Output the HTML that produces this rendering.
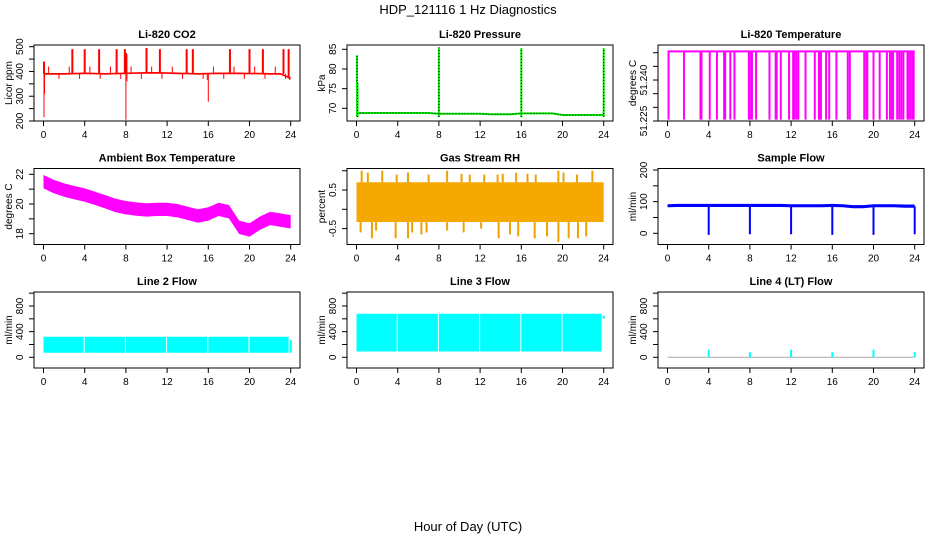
<!DOCTYPE html>
<html><head><meta charset="utf-8">
<style>
html,body{margin:0;padding:0;background:#fff;}
svg{display:block;font-family:"Liberation Sans",sans-serif;}
</style></head>
<body>
<svg id="chart" width="936" height="540" viewBox="0 0 936 540" xmlns="http://www.w3.org/2000/svg">
<text x="468" y="14" text-anchor="middle" font-size="13">HDP_121116  1 Hz Diagnostics</text>
<text x="468" y="531" text-anchor="middle" font-size="13">Hour of Day (UTC)</text>
</svg>
<script>
// ---- data ----
const xTicks = [0,4,8,12,16,20,24];
// CO2
const co2Base = [390,390,390,391,392,391,390,391,392,393,394,394,393,392,391,390,391,392,392,392,391,391,390,390,372];
const co2SpikeHours = [0.05,2.8,4.0,5.4,7.1,7.9,8.0,8.05,10.0,11.3,13.9,14.5,18.1,20.0,21.3,23.3,23.8];
const co2SpikeTops = [440,490,490,490,490,490,475,470,495,490,490,490,490,490,490,490,490];
const co2DipHours = [0.05,0.1,8.0,8.1,16.0,15.9,23.9];
const co2DipLows = [215,310,205,360,278,365,365];
// Pressure
const presBase = [68.8,68.8,68.8,68.8,68.8,68.8,68.8,68.8,68.6,68.6,68.6,68.6,68.6,68.5,68.5,68.5,68.7,68.7,68.7,68.7,68.3,68.3,68.3,68.3,68.3];
const presSpikeHours = [0.05,0.1,8.0,16.0,24.0];
const presSpikeTops = [83.5,76.5,85.5,85.3,85.3];
// Li-820 temperature
const tempTop = 51.2505;
const tempDropHours = [0.1,1.6,3.2,3.3,4.1,4.8,5.5,5.6,6.1,6.5,7.9,8.0,8.2,8.6,9.9,10.5,10.6,11.0,11.8,12.2,12.3,12.5,12.7,13.4,14.3,14.7,14.8,14.9,15.4,15.7,16.4,17.5,17.7,19.1,19.3,19.4,20.0,20.6,21.3,21.6,21.8,21.9,22.3,22.5,22.7,22.9,23.3,23.4,23.6,23.8,23.9];
const tempDropLow = 51.2255;
// Ambient box temperature
const ambMid = [21.5,21.17,20.94,20.76,20.6,20.38,20.15,19.9,19.75,19.66,19.6,19.64,19.64,19.55,19.37,19.19,19.33,19.64,19.48,18.43,18.25,18.7,19.03,18.92,18.8];
const ambHalf = 0.45;
// Gas stream RH
const rhLow = -0.33, rhHigh = 0.7;
const rhUpHours = [0.5,1.1,2.5,3.9,5.0,7.0,8.8,10.2,11.0,12.4,13.7,14.2,15.5,16.6,17.4,19.6,20.1,21.4,22.9];
const rhUpVals = [1.0,0.95,1.0,0.9,0.95,0.9,1.0,0.92,0.9,0.9,0.9,0.92,0.95,0.92,0.9,1.0,0.95,0.9,1.0];
const rhDnHours = [0.4,1.5,1.9,3.8,5.0,5.4,6.3,6.8,8.8,10.4,12.1,13.8,14.9,15.7,17.3,18.5,19.6,20.6,21.5,22.3];
const rhDnVals = [-0.6,-0.75,-0.55,-0.75,-0.75,-0.6,-0.65,-0.6,-0.55,-0.6,-0.5,-0.75,-0.65,-0.7,-0.75,-0.7,-0.85,-0.75,-0.75,-0.7];
// Sample flow
const sfMid = [87,88,88,88,88,88,88,88,88,88,88,88,87,87,87,87,88,87,84,84,87,87,87,86,86];
const sfDipHours = [4,8,12,16,20,24];
const sfDipLows = [-5,-3,-3,-5,-5,-3];
// Line flows
const l2Low = 70, l2High = 320;
const l3Low = 90, l3High = 680;
const flowGapHours = [3.9,7.9,11.9,15.9,19.9];
const l4SpikeHours = [4,8,12,16,20,24];
const l4SpikeVals = [120,80,120,80,120,80];

// ---- layout ----
const svg = document.getElementById('chart');
const NS = 'http://www.w3.org/2000/svg';
const colLeft = [34,347,658], rowTop = [45,168.5,292], W = 266, H = 76;
function mk(tag, attrs, name, parent){
  const el = document.createElementNS(NS, tag);
  for (const k in attrs) el.setAttribute(k, attrs[k]);
  
  
  (parent||svg).appendChild(el);
  return el;
}
const panels = [
 {key:'co2',title:'Li-820 CO2',ylab:'Licor ppm',c:0,r:0,vA:200,pA:76,vB:500,pB:1.7,ticks:[200,250,300,350,400,450,500],labels:[200,300,400,500],fmt:v=>v},
 {key:'pressure',title:'Li-820 Pressure',ylab:'kPa',c:1,r:0,vA:70,pA:63.3,vB:85,pB:4.3,ticks:[70,75,80,85],labels:[70,75,80,85],fmt:v=>v},
 {key:'temperature',title:'Li-820 Temperature',ylab:'degrees C',c:2,r:0,vA:51.225,pA:76,vB:51.25,pB:7.7,ticks:[51.225,51.23,51.235,51.24,51.245,51.25],labels:[51.225,51.24],fmt:v=>v.toFixed(3)},
 {key:'ambient',title:'Ambient Box Temperature',ylab:'degrees C',c:0,r:1,vA:18,pA:65.2,vB:22,pB:5.8,ticks:[18,19,20,21,22],labels:[18,20,22],fmt:v=>v},
 {key:'rh',title:'Gas Stream RH',ylab:'percent',c:1,r:1,vA:0,pA:40.8,vB:0.5,pB:21.5,ticks:[-0.5,0,0.5,1],labels:[-0.5,0.5],fmt:v=>v},
 {key:'sample-flow',title:'Sample Flow',ylab:'ml/min',c:2,r:1,vA:0,pA:64.8,vB:200,pB:1.5,ticks:[0,50,100,150,200],labels:[0,100,200],fmt:v=>v},
 {key:'line2',title:'Line 2 Flow',ylab:'ml/min',c:0,r:2,vA:0,pA:65.3,vB:800,pB:14,ticks:[0,200,400,600,800,1000],labels:[0,400,800],fmt:v=>v},
 {key:'line3',title:'Line 3 Flow',ylab:'ml/min',c:1,r:2,vA:0,pA:65.3,vB:800,pB:14,ticks:[0,200,400,600,800,1000],labels:[0,400,800],fmt:v=>v},
 {key:'line4',title:'Line 4 (LT) Flow',ylab:'ml/min',c:2,r:2,vA:0,pA:65.3,vB:800,pB:14,ticks:[0,200,400,600,800,1000],labels:[0,400,800],fmt:v=>v}
];
panels.forEach(p=>{
  const L = colLeft[p.c], T = rowTop[p.r];
  p.x = h => L + 9.5 + h*10.3;
  p.y = v => T + p.pA + (v - p.vA)*(p.pB - p.pA)/(p.vB - p.vA);
  p.L=L; p.T=T;
  p.g = mk('g',{},p.key+'-panel');
  mk('text',{x:L+W/2,y:T-7,'text-anchor':'middle','font-size':11,'font-weight':'bold'},p.key+'-title',p.g).textContent=p.title;
  p.marks = mk('g',{},p.key+'-series',p.g);
  const cl = mk('clipPath',{id:'clip-'+p.key},p.key+'-clip',p.g);
  mk('rect',{x:L,y:T,width:W,height:H},p.key+'-clip-rect',cl);
  p.marks.setAttribute('clip-path','url(#clip-'+p.key+')');
});
function line(p,x1,y1,x2,y2,col,w,name,extra){
  const a={x1:x1,y1:y1,x2:x2,y2:y2,stroke:col,'stroke-width':w||1};
  if(extra) for(const k in extra) a[k]=extra[k];
  return mk('line',a,name,p.marks);
}
function poly(p,pts,fill,name,stroke){
  return mk('polygon',{points:pts.map(q=>q[0].toFixed(1)+','+q[1].toFixed(1)).join(' '),fill:fill,stroke:stroke||'none'},name,p.marks);
}
const P = {}; panels.forEach(p=>P[p.key]=p);

// CO2
(function(){const p=P.co2;
  const top=co2Base.map((v,i)=>[p.x(i),p.y(v+4)]), bot=co2Base.map((v,i)=>[p.x(i),p.y(v-3)]).reverse();
  poly(p,top.concat(bot),'#ff0000','co2-band');
  co2SpikeHours.forEach((h,i)=>line(p,p.x(h),p.y(co2Base[Math.round(h)]),p.x(h),p.y(co2SpikeTops[i]),'#ff0000',2,'co2-spike'));
  co2DipHours.forEach((h,i)=>line(p,p.x(h),p.y(co2Base[Math.round(h)]),p.x(h),p.y(co2DipLows[i]),'#ff0000',1,'co2-dip'));
  for(let i=0;i<24;i++){const h=i+0.5;line(p,p.x(h),p.y(390),p.x(h),p.y(i%2?370:420),'#ff0000',1,'co2-noise');}
})();
// Pressure
(function(){const p=P.pressure;
  const d=presBase.map((v,i)=>[p.x(i),p.y(v)]);
  mk('polyline',{points:d.map(q=>q.join(',')).join(' '),fill:'none',stroke:'#00ee00','stroke-width':2},'pressure-line',p.marks);
  mk('polyline',{points:d.map(q=>q.join(',')).join(' '),fill:'none',stroke:'#000','stroke-width':1,'stroke-dasharray':'1,2'},'pressure-line-dotted',p.marks);
  presSpikeHours.forEach((h,i)=>{line(p,p.x(h),p.y(67.8),p.x(h),p.y(presSpikeTops[i]),'#00ee00',2,'pressure-spike');
    line(p,p.x(h),p.y(67.8),p.x(h),p.y(presSpikeTops[i]),'#000',1,'pressure-spike-dotted',{'stroke-dasharray':'1,2'});});
})();
// Li-820 Temperature
(function(){const p=P.temperature;
  line(p,p.x(0),p.y(tempTop),p.x(24),p.y(tempTop),'#ff00ff',2,'temperature-line');
  tempDropHours.forEach(h=>line(p,p.x(h),p.y(tempTop),p.x(h),p.y(tempDropLow),'#ff00ff',2,'temperature-drop'));
})();
// Ambient
(function(){const p=P.ambient;
  const top=ambMid.map((v,i)=>[p.x(i),p.y(v+ambHalf)]), bot=ambMid.map((v,i)=>[p.x(i),p.y(v-ambHalf)]).reverse();
  poly(p,top.concat(bot),'#ff00ff','ambient-band');
})();
// RH
(function(){const p=P.rh;
  poly(p,[[p.x(0),p.y(rhHigh)],[p.x(24),p.y(rhHigh)],[p.x(24),p.y(rhLow)],[p.x(0),p.y(rhLow)]],'#f5a800','rh-band');
  rhUpHours.forEach((h,i)=>line(p,p.x(h),p.y(rhHigh),p.x(h),p.y(rhUpVals[i]),'#f0a000',2,'rh-spike-up'));
  rhDnHours.forEach((h,i)=>line(p,p.x(h),p.y(rhLow),p.x(h),p.y(rhDnVals[i]),'#f0a000',2,'rh-spike-down'));
})();
// Sample flow
(function(){const p=P['sample-flow'];
  const top=sfMid.map((v,i)=>[p.x(i),p.y(v+5)]), bot=sfMid.map((v,i)=>[p.x(i),p.y(v-5)]).reverse();
  poly(p,top.concat(bot),'#0000ff','sample-flow-band');
  sfDipHours.forEach((h,i)=>line(p,p.x(h),p.y(85),p.x(h),p.y(sfDipLows[i]),'#0000ff',2,'sample-flow-dip'));
})();
// Line 2 / 3 flows
function flowBand(p,lo,hi,name){
  const edges=[0].concat(flowGapHours).concat([23.8]);
  for(let i=0;i<edges.length-1;i++){
    const a=edges[i]+(i?0.1:0), b=edges[i+1];
    poly(p,[[p.x(a),p.y(hi)],[p.x(b),p.y(hi)],[p.x(b),p.y(lo)],[p.x(a),p.y(lo)]],'#00ffff',name);
  }
}
flowBand(P.line2,l2Low,l2High,'line2-band');
line(P.line2,P.line2.x(24),P.line2.y(70),P.line2.x(24),P.line2.y(270),'#00ffff',2,'line2-end');
flowBand(P.line3,l3Low,l3High,'line3-band');
line(P.line3,P.line3.x(24),P.line3.y(600),P.line3.x(24),P.line3.y(650),'#00ffff',2,'line3-end');
// Line 4
(function(){const p=P.line4;
  line(p,p.x(0),p.y(0),p.x(24),p.y(0),'#aaaaaa',1,'line4-baseline');
  l4SpikeHours.forEach((h,i)=>line(p,p.x(h),p.y(0),p.x(h),p.y(l4SpikeVals[i]),'#00ffff',2,'line4-spike'));
})();

// axes
panels.forEach(p=>{
  const L=p.L,T=p.T;
  mk('rect',{x:L,y:T,width:W,height:H,fill:'none',stroke:'#000','stroke-width':1},p.key+'-plot-box',p.g);
  xTicks.forEach(h=>{
    line({marks:p.g},p.x(h),T+H,p.x(h),T+H+5,'#000',1,p.key+'-x-tick');
    const t=mk('text',{x:p.x(h),y:T+H+17,'text-anchor':'middle','font-size':10},p.key+'-x-tick-label',p.g);
    t.textContent=h;
  });
  p.ticks.forEach(v=>line({marks:p.g},L-5,p.y(v),L,p.y(v),'#000',1,p.key+'-y-tick'));
  p.labels.forEach(v=>{
    const yy=p.y(v), xx=L-11;
    const t=mk('text',{x:xx,y:yy,'text-anchor':'middle','font-size':10,transform:'rotate(-90 '+xx+' '+yy+')'},p.key+'-y-tick-label',p.g);
    t.textContent=p.fmt(v);
  });
  const ty=T+H/2, tx=L-22;
  const t=mk('text',{x:tx,y:ty,'text-anchor':'middle','font-size':10,transform:'rotate(-90 '+tx+' '+ty+')'},p.key+'-y-axis-title',p.g);
  t.textContent=p.ylab;
});
</script>
</body></html>
